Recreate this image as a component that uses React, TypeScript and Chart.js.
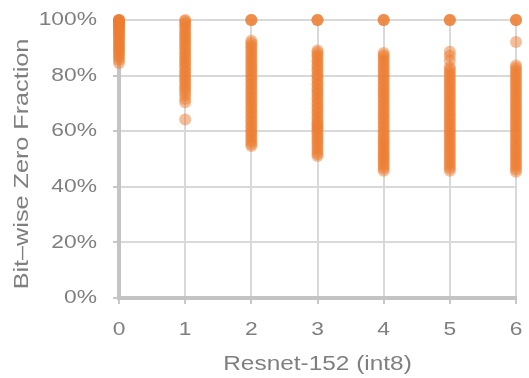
import React, { useEffect, useRef } from "react";
import { Chart, registerables } from "chart.js";

Chart.register(...registerables);

// ---- data ----
const X_CATS = [0, 1, 2, 3, 4, 5, 6];
const X_TICK_LABELS = ["0", "1", "2", "3", "4", "5", "6"];
const Y_TICKS = [0, 20, 40, 60, 80, 100];
const Y_TICK_LABELS = ["0%", "20%", "40%", "60%", "80%", "100%"];
const X_TITLE = "Resnet-152 (int8)";
const Y_TITLE = "Bit–wise Zero Fraction";

const COL0 = [100, 100, 100, 99.8, 99.5, 99.3, 99.0, 98.6, 98.3, 97.9, 97.6, 97.2, 96.7, 96.4, 95.8, 95.5, 94.9, 94.3, 93.9, 93.2, 92.8, 92.1, 91.5, 91.0, 90.3, 89.6, 89.2, 88.5, 87.8, 87.2, 86.3, 85.6, 84.5];
const COL1 = [100, 99.6, 99.0, 98.2, 97.5, 96.8, 95.8, 95.1, 94.3, 93.4, 92.8, 91.8, 91.2, 90.1, 89.6, 88.5, 87.9, 86.8, 86.2, 85.1, 84.6, 83.5, 82.9, 81.7, 81.2, 80.0, 79.4, 78.3, 77.7, 76.6, 75.8, 74.9, 73.9, 72.9, 71.6, 70.4, 64.2];
const COL2 = [100, 100, 100, 92.5, 91.7, 90.9, 90.2, 89.2, 88.5, 87.4, 86.8, 85.7, 85.1, 84.0, 83.4, 82.3, 81.8, 80.6, 80.0, 78.9, 78.4, 77.2, 76.7, 75.5, 74.9, 73.9, 73.2, 72.1, 71.6, 70.4, 69.9, 68.7, 68.2, 67.0, 66.5, 65.4, 64.7, 63.6, 63.1, 61.9, 61.4, 60.2, 59.7, 58.6, 58.0, 56.9, 56.3, 55.4, 54.7];
const COL3 = [100, 100, 100, 89.0, 88.3, 87.4, 86.8, 85.7, 85.1, 84.0, 83.4, 82.3, 81.7, 80.5, 79.9, 78.9, 78.2, 77.1, 76.6, 75.4, 74.8, 73.8, 73.1, 72.0, 71.5, 70.3, 69.7, 68.6, 68.0, 66.9, 66.3, 65.2, 64.5, 63.6, 62.9, 62.3, 61.6, 61.1, 60.4, 59.6, 58.9, 57.8, 57.1, 56.2, 55.4, 54.4, 53.7, 52.6, 51.8, 51.1];
const COL4 = [100, 100, 100, 88.1, 87.3, 86.6, 85.6, 84.9, 83.9, 83.2, 82.2, 81.5, 80.4, 79.8, 78.7, 78.1, 77.0, 76.3, 75.3, 74.6, 73.6, 72.9, 71.8, 71.2, 70.1, 69.5, 68.4, 67.7, 66.7, 66.0, 65.0, 64.3, 63.3, 62.6, 61.5, 60.9, 59.8, 59.2, 58.1, 57.4, 56.6, 55.8, 55.1, 54.3, 53.6, 52.7, 52.1, 51.3, 50.6, 49.7, 49.1, 48.2, 47.4, 46.6, 45.8];
const COL5 = [100, 100, 100, 88.6, 87.1, 85.4, 83.1, 82.3, 81.4, 80.6, 79.7, 78.9, 78.0, 77.3, 76.3, 75.6, 74.6, 73.8, 72.9, 72.1, 71.2, 70.5, 69.5, 68.8, 67.8, 67.1, 66.1, 65.4, 64.4, 63.7, 62.8, 62.0, 61.1, 60.3, 59.4, 58.6, 57.7, 56.9, 56.0, 55.2, 54.3, 53.5, 52.6, 51.8, 50.9, 50.1, 49.2, 48.4, 47.5, 46.7, 45.8];
const COL6 = [100, 100, 100, 92.1, 83.6, 82.8, 81.9, 81.1, 80.2, 79.4, 78.5, 77.7, 76.8, 76.0, 75.1, 74.3, 73.4, 72.6, 71.7, 70.9, 70.0, 69.2, 68.3, 67.5, 66.6, 65.8, 64.9, 64.1, 63.2, 62.4, 61.5, 60.7, 59.8, 59.0, 58.1, 57.3, 56.4, 55.6, 54.7, 53.9, 53.0, 52.2, 51.3, 50.5, 49.6, 48.8, 47.9, 47.1, 46.2, 45.4];
const COLUMNS = [COL0, COL1, COL2, COL3, COL4, COL5, COL6];

const ORANGE = "rgba(237,125,49,0.5)";
const TEXT_COLOR = "#7f7f7f";
const FONT_FAMILY = '"Liberation Sans", Arial, sans-serif';

const stretchTextPlugin = {
  id: "stretchText",
  afterDraw(chart: any) {
    const { ctx, chartArea } = chart;
    const xs = chart.scales.x;
    const ys = chart.scales.y;
    const draw = (t: string, px: number, py: number, size: number, align: CanvasTextAlign, sx: number, rot: boolean) => {
      ctx.save();
      ctx.translate(px, py);
      if (rot) ctx.rotate(-Math.PI / 2);
      ctx.scale(sx, 1);
      ctx.font = `${size}px ${FONT_FAMILY}`;
      ctx.fillStyle = TEXT_COLOR;
      ctx.textAlign = align;
      ctx.textBaseline = "middle";
      ctx.fillText(t, 0, 0);
      ctx.restore();
    };
    Y_TICKS.forEach((v, i) => draw(Y_TICK_LABELS[i], chartArea.left - 22, ys.getPixelForValue(v), 19, "right", 1.2, false));
    X_CATS.forEach((v, i) => draw(X_TICK_LABELS[i], xs.getPixelForValue(v), chartArea.bottom + 32, 19, "center", 1.2, false));
    draw(X_TITLE, (chartArea.left + chartArea.right) / 2, chartArea.bottom + 66, 20, "center", 1.22, false);
    draw(Y_TITLE, chartArea.left - 97, (chartArea.top + chartArea.bottom) / 2 + 5, 21, "center", 1.2, true);
  },
};

export default function App() {
  const ref = useRef<HTMLCanvasElement>(null);
  useEffect(() => {
    if (!ref.current) return;
    const data = COLUMNS.flatMap((vals, i) => vals.map((v) => ({ x: X_CATS[i], y: v })));
    const chart = new Chart(ref.current, {
      type: "scatter",
      data: {
        datasets: [
          {
            data,
            backgroundColor: ORANGE,
            borderWidth: 0,
            pointRadius: 6,
            pointHoverRadius: 6,
            clip: false as any,
          },
        ],
      },
      options: {
        animation: false,
        responsive: false,
        devicePixelRatio: 1,
        layout: { padding: { left: 113, right: 13, top: 20, bottom: 74 } },
        plugins: { legend: { display: false }, tooltip: { enabled: false }, title: { display: false } },
        scales: {
          x: {
            type: "linear",
            min: 0,
            max: 6,
            ticks: { stepSize: 1, display: false },
            grid: { color: "#d9d9d9", lineWidth: 2, tickLength: 6, tickColor: "#c8c8c8", tickWidth: 2 },
            border: { display: true, color: "#c4c4c4", width: 4 },
          },
          y: {
            type: "linear",
            min: 0,
            max: 100,
            ticks: { stepSize: 20, display: false },
            grid: { color: "#d9d9d9", lineWidth: 2, tickLength: 6, tickColor: "#c8c8c8", tickWidth: 2 },
            border: { display: true, color: "#c4c4c4", width: 4 },
          },
        },
      },
      plugins: [stretchTextPlugin],
    });
    return () => chart.destroy();
  }, []);
  return (
    <div style={{ position: "absolute", left: 0, top: 0, width: 529, height: 378, background: "#fff" }}>
      <canvas ref={ref} width={529} height={378} style={{ display: "block" }} />
    </div>
  );
}
